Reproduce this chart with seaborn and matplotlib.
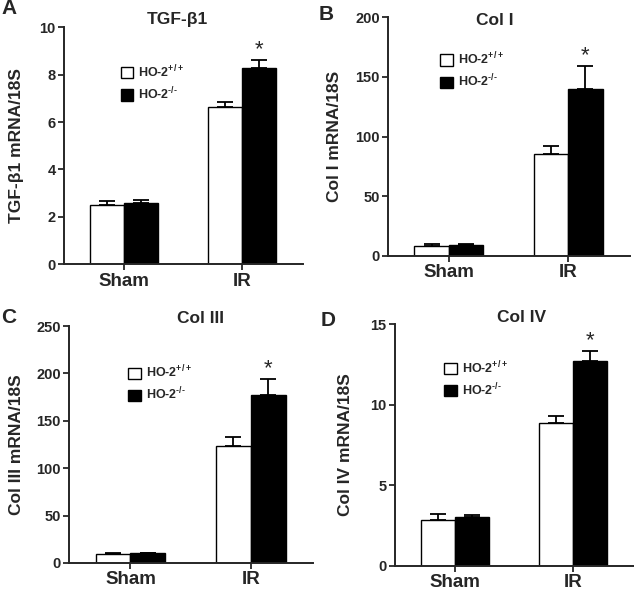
import pandas as pd
import seaborn as sns
import matplotlib.pyplot as plt
from matplotlib.patches import Patch

# data (mean, upper SEM)
groups = ['Sham', 'IR']
genotypes = ['HO-2+/+', 'HO-2-/-']

tgf_wt = [2.48, 6.63]
tgf_wt_err = [0.20, 0.23]
tgf_ko = [2.57, 8.27]
tgf_ko_err = [0.13, 0.35]

col1_wt = [8.1, 85.7]
col1_wt_err = [2.0, 6.7]
col1_ko = [9.2, 139.8]
col1_ko_err = [0.8, 19.0]

col3_wt = [9.2, 123.4]
col3_wt_err = [1.3, 9.9]
col3_ko = [9.9, 176.9]
col3_ko_err = [0.6, 16.9]

col4_wt = [2.82, 8.88]
col4_wt_err = [0.41, 0.44]
col4_ko = [3.04, 12.71]
col4_ko_err = [0.10, 0.62]

sns.set_theme(style='ticks')
plt.rcParams['font.family'] = ['Liberation Sans', 'DejaVu Sans']
plt.rcParams['font.weight'] = 'bold'
plt.rcParams['mathtext.fontset'] = 'custom'
plt.rcParams['mathtext.rm'] = 'Liberation Sans:bold'
plt.rcParams['mathtext.bf'] = 'Liberation Sans:bold'
plt.rcParams['mathtext.default'] = 'bf'

fig = plt.figure(figsize=(6.34, 5.95), dpi=100)

panels = [
    # letter, title, ylabel, data, ylim, yticks, axes rect, title x, label x, legend anchor
    ('A', 'TGF-\u03b21', 'TGF-\u03b21 mRNA/18S',
     (tgf_wt, tgf_wt_err, tgf_ko, tgf_ko_err), 10, [0, 2, 4, 6, 8, 10],
     [0.101, 0.556, 0.377, 0.398], 0.473, -0.168, (0.238, 0.848)),
    ('B', 'Col I', 'Col I mRNA/18S',
     (col1_wt, col1_wt_err, col1_ko, col1_ko_err), 200, [0, 50, 100, 150, 200],
     [0.612, 0.570, 0.382, 0.401], 0.442, -0.192, (0.215, 0.86)),
    ('C', 'Col III', 'Col III mRNA/18S',
     (col3_wt, col3_wt_err, col3_ko, col3_ko_err), 250, [0, 50, 100, 150, 200, 250],
     [0.109, 0.054, 0.385, 0.398], 0.537, -0.184, (0.242, 0.84)),
    ('D', 'Col IV', 'Col IV mRNA/18S',
     (col4_wt, col4_wt_err, col4_ko, col4_ko_err), 15, [0, 5, 10, 15],
     [0.623, 0.049, 0.378, 0.406], 0.528, -0.174, (0.206, 0.855)),
]

letter_pos = {'A': (0.002, 0.986), 'B': (0.503, 0.976), 'C': (0.002, 0.466), 'D': (0.505, 0.461)}
title_y = {'A': 0.968, 'B': 0.966, 'C': 0.464, 'D': 0.466}

for letter, title, ylabel, vals, ymax, yticks, rect, tx, lx, leg_xy in panels:
    wt, wt_err, ko, ko_err = vals
    df = pd.DataFrame({
        'group': groups * 2,
        'genotype': [genotypes[0]] * 2 + [genotypes[1]] * 2,
        'value': wt + ko,
    })
    ax = fig.add_axes(rect)
    sns.barplot(data=df, x='group', y='value', hue='genotype',
                order=groups, hue_order=genotypes,
                palette={genotypes[0]: 'white', genotypes[1]: 'black'},
                edgecolor='black', linewidth=1.0, width=0.58, ax=ax, legend=False)

    # upper-only error bars
    for cont, errs in zip(ax.containers, [wt_err, ko_err]):
        xs = [b.get_x() + b.get_width() / 2 for b in cont]
        hs = [b.get_height() for b in cont]
        ax.errorbar(xs, hs, yerr=[[0] * len(errs), errs], fmt='none',
                    ecolor='black', elinewidth=1.3, capsize=5.5, capthick=1.3,
                    zorder=1)

    # significance star over IR knockout bar
    ko_bar = ax.containers[1][1]
    ax.annotate('*', xy=(ko_bar.get_x() + ko_bar.get_width() / 2,
                         ko_bar.get_height() + ko_err[1]),
                xytext=(0, 0), textcoords='offset points',
                ha='center', va='bottom', fontsize=16, fontweight='normal')

    ax.set_xlim(-0.51, 1.52)
    ax.set_ylim(0, ymax)
    ax.set_yticks(yticks)
    ax.set_xlabel('')
    ax.set_ylabel(ylabel, fontsize=12.5, fontweight='bold')
    ax.yaxis.set_label_coords(lx, 0.5)
    ax.tick_params(axis='y', labelsize=10.5, width=1.3, length=4, pad=2)
    ax.tick_params(axis='x', labelsize=13.5, width=1.3, length=4, pad=2)
    for lab in ax.get_xticklabels() + ax.get_yticklabels():
        lab.set_fontweight('bold')
    sns.despine(ax=ax)
    for s in ['left', 'bottom']:
        ax.spines[s].set_linewidth(1.4)

    handles = [Patch(facecolor='white', edgecolor='black', linewidth=1.0),
               Patch(facecolor='black', edgecolor='black', linewidth=1.0)]
    ax.legend(handles, [r'HO-2$^{+/+}$', r'HO-2$^{\text{-/-}}$'],
              loc='upper left', bbox_to_anchor=leg_xy, frameon=False,
              fontsize=9, handlelength=1.0, handleheight=1.0,
              handletextpad=0.4, borderpad=0, borderaxespad=0,
              labelspacing=0.45)

    fig.text(rect[0] + tx * rect[2], title_y[letter], title,
             ha='center', va='center', fontsize=12.5, fontweight='bold')
    fig.text(letter_pos[letter][0], letter_pos[letter][1], letter,
             ha='left', va='center', fontsize=15, fontweight='bold')

fig.savefig('out.png', dpi=100)
